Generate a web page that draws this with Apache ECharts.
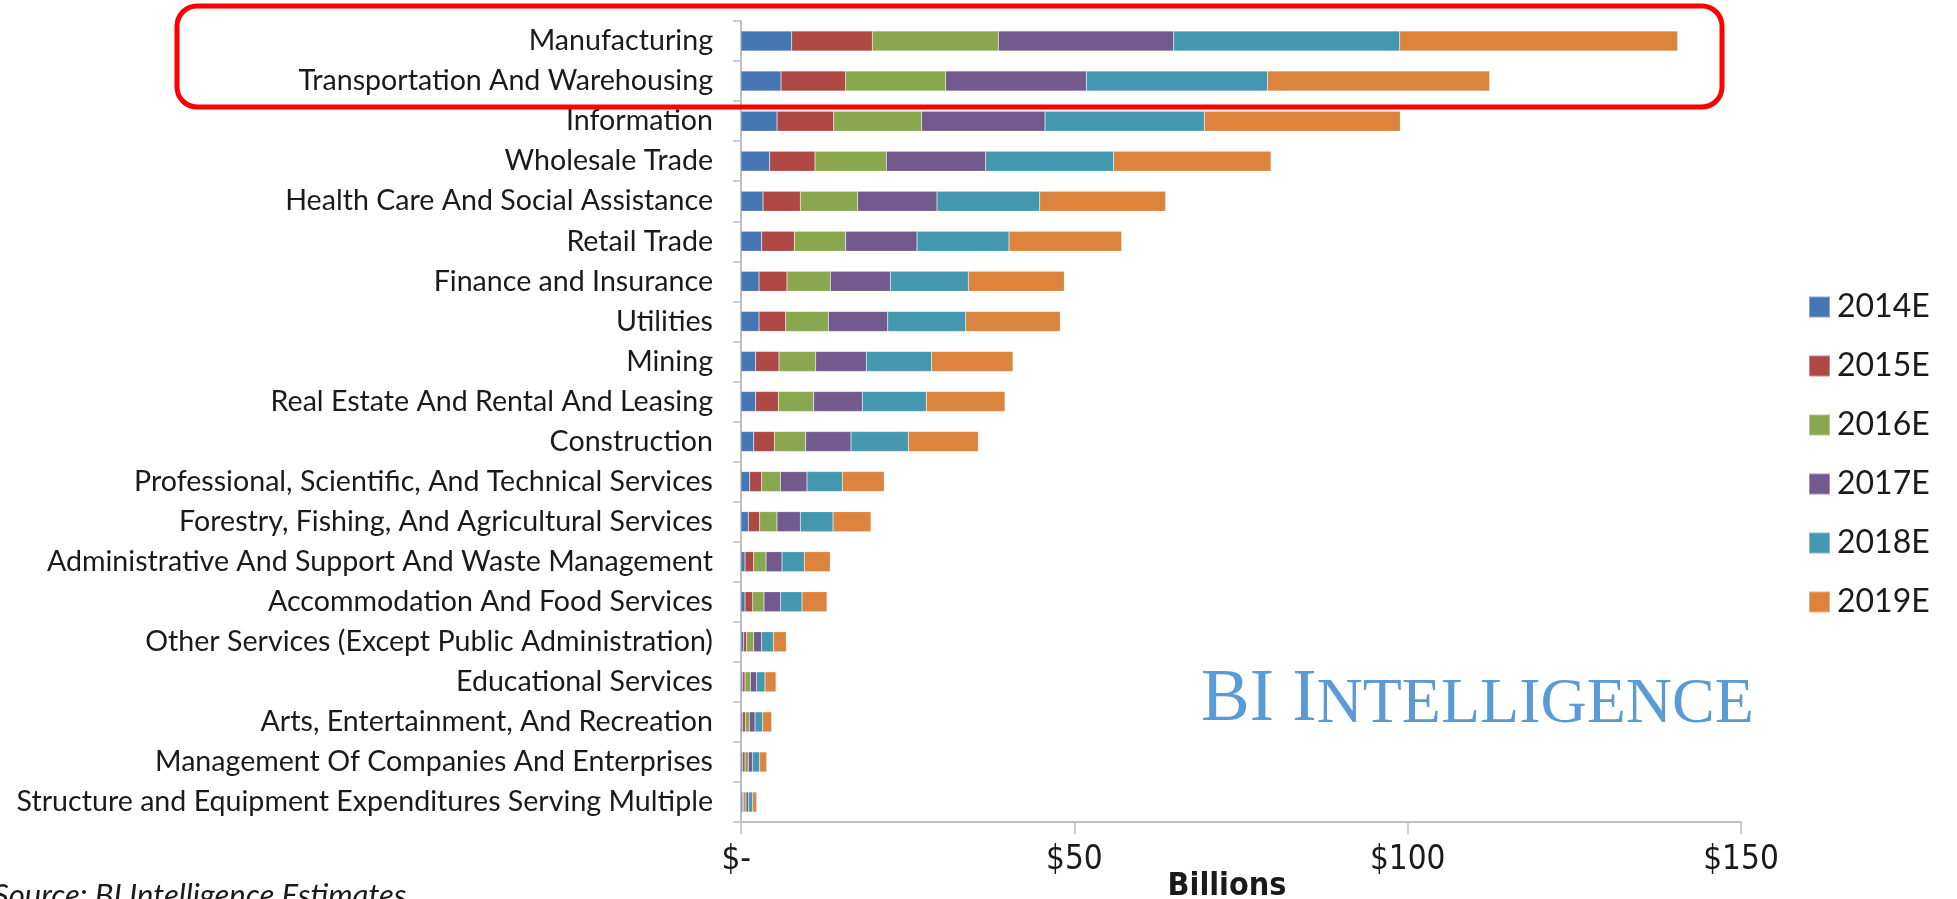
<!DOCTYPE html>
<html>
<head>
<meta charset="utf-8">
<script src="https://cdn.jsdelivr.net/npm/echarts@6/dist/echarts.min.js"></script>
<style>
html,body{margin:0;padding:0;background:#fff;}
#chart{width:1957px;height:899px;}
</style>
</head>
<body>
<div id="chart"></div>
<script>
const categories = [
  "Manufacturing",
  "Transportation And Warehousing",
  "Information",
  "Wholesale Trade",
  "Health Care And Social Assistance",
  "Retail Trade",
  "Finance and Insurance",
  "Utilities",
  "Mining",
  "Real Estate And Rental And Leasing",
  "Construction",
  "Professional, Scientific, And Technical Services",
  "Forestry, Fishing, And Agricultural Services",
  "Administrative And Support And Waste Management",
  "Accommodation And Food Services",
  "Other Services (Except Public Administration)",
  "Educational Services",
  "Arts, Entertainment, And Recreation",
  "Management Of Companies And Enterprises",
  "Structure and Equipment Expenditures Serving Multiple"
];
const seriesNames = ["2014E", "2015E", "2016E", "2017E", "2018E", "2019E"];
const y2014 = [7.6, 6.0, 5.4, 4.3, 3.3, 3.1, 2.7, 2.7, 2.2, 2.2, 1.9, 1.3, 1.1, 0.6, 0.6, 0.4, 0.25, 0.25, 0.25, 0.2];
const y2015 = [12.1, 9.7, 8.5, 6.8, 5.6, 4.9, 4.2, 4.0, 3.5, 3.4, 3.1, 1.8, 1.7, 1.3, 1.15, 0.45, 0.35, 0.4, 0.35, 0.2];
const y2016 = [18.9, 15.0, 13.2, 10.7, 8.6, 7.7, 6.5, 6.4, 5.5, 5.3, 4.7, 2.8, 2.6, 1.85, 1.7, 1.05, 0.8, 0.6, 0.5, 0.35];
const y2017 = [26.3, 21.1, 18.5, 14.9, 11.9, 10.7, 9.0, 8.9, 7.6, 7.3, 6.8, 4.0, 3.5, 2.4, 2.5, 1.2, 0.95, 0.85, 0.65, 0.4];
const y2018 = [33.9, 27.2, 23.9, 19.2, 15.4, 13.8, 11.7, 11.7, 9.8, 9.6, 8.6, 5.3, 4.9, 3.35, 3.2, 1.75, 1.25, 1.15, 1.05, 0.6];
const y2019 = [41.7, 33.3, 29.4, 23.6, 18.9, 16.9, 14.4, 14.2, 12.2, 11.8, 10.5, 6.3, 5.7, 3.9, 3.75, 1.95, 1.65, 1.35, 1.05, 0.6];
const xTicks = [0, 50, 100, 150];
const xTickLabels = ["$- ", "$50", "$100", "$150"];

const seriesData = [y2014, y2015, y2016, y2017, y2018, y2019];
const colors = ["#4677b4", "#ad4845", "#8aa64e", "#725a8f", "#4398b0", "#dc843e"];

const chart = echarts.init(document.getElementById('chart'), null, {renderer: 'canvas'});
const option = {
  animation: false,
  backgroundColor: '#ffffff',
  color: colors,
  grid: {left: 741, right: 216, top: 21, bottom: 77, containLabel: false},
  legend: {
    orient: 'vertical',
    left: 1808,
    top: 291,
    padding: 0,
    itemWidth: 21,
    itemHeight: 21,
    itemGap: 27,
    icon: 'rect',
    data: seriesNames,
    textStyle: {fontFamily: 'Lato', fontSize: 32, lineHeight: 32, color: '#1a1a1a', padding: [0, 0, 0, 2]}
  },
  xAxis: {
    type: 'value',
    min: 0,
    max: 150,
    interval: 50,
    splitLine: {show: false},
    axisLine: {show: true, lineStyle: {color: '#bfbfbf', width: 2}},
    axisTick: {show: true, length: 12, lineStyle: {color: '#bfbfbf', width: 1.5}},
    axisLabel: {
      margin: 22,
      fontFamily: "'DejaVu Sans Condensed', sans-serif",
      fontSize: 33,
      color: '#1a1a1a',
      formatter: function (v) { const i = xTicks.indexOf(v); return i >= 0 ? xTickLabels[i] : ''; }
    }
  },
  yAxis: {
    type: 'category',
    inverse: true,
    data: categories,
    axisLine: {show: true, lineStyle: {color: '#bfbfbf', width: 2}},
    axisTick: {show: true, length: 8, lineStyle: {color: '#bfbfbf', width: 1.5}},
    axisLabel: {margin: 28, fontFamily: 'Lato', fontSize: 28.6, color: '#1a1a1a'}
  },
  series: seriesData.map(function (d, i) {
    return {
      name: seriesNames[i],
      type: 'bar',
      stack: 'total',
      barWidth: 20,
      data: d,
      itemStyle: {color: colors[i], borderColor: 'rgba(255,255,255,0.35)', borderWidth: 0.5}
    };
  }),
  graphic: [
    {
      type: 'rect',
      shape: {x: 177, y: 6, width: 1545, height: 101, r: 20},
      style: {fill: 'none', stroke: '#ff0000', lineWidth: 5},
      z: 100
    },
    {
      type: 'text',
      style: {
        x: 1201, y: 737,
        text: '{a|BI I}{b|NTELLIGENCE}',
        verticalAlign: 'bottom',
        rich: {
          a: {fontFamily: "'Liberation Serif', serif", fontSize: 73, fill: '#5b9bd5', verticalAlign: 'bottom'},
          b: {fontFamily: "'Liberation Serif', serif", fontSize: 64, fill: '#5b9bd5', verticalAlign: 'bottom'}
        }
      },
      z: 50
    },
    {
      type: 'text',
      style: {x: -7, y: 896, text: 'Source: BI Intelligence Estimates', fontFamily: 'Lato', fontStyle: 'italic', fontSize: 31, fill: '#1a1a1a', verticalAlign: 'middle'}
    },
    {
      type: 'text',
      style: {x: 1227, y: 871, text: 'Billions', fontFamily: "'DejaVu Sans Condensed', sans-serif", fontWeight: 'bold', fontSize: 32, fill: '#1a1a1a', align: 'center', verticalAlign: 'top'}
    }
  ]
};
chart.setOption(option);
</script>
</body>
</html>
